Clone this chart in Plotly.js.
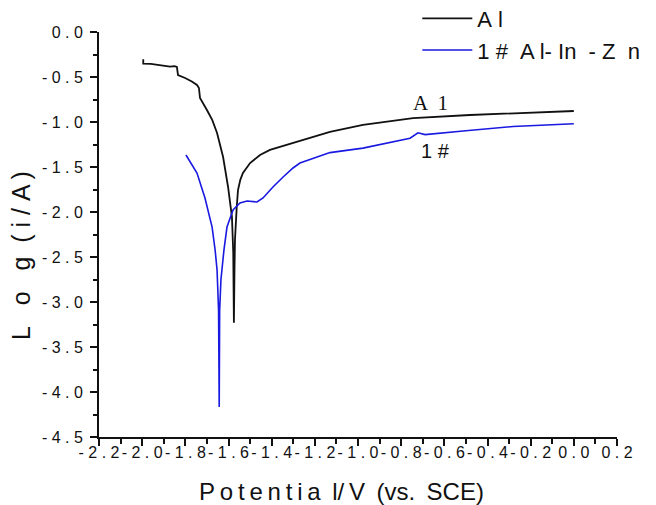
<!DOCTYPE html>
<html>
<head>
<meta charset="utf-8">
<script src="https://cdn.plot.ly/plotly-3.0.1.min.js"></script>
<style>
  html, body { margin: 0; padding: 0; background: #fff; }
  #chart { width: 656px; height: 505px; }
</style>
</head>
<body>
<div id="chart"></div>
<script>
// ---- Data ----
const NB = "\u00a0", TH = "\u2009";
const seriesNames = ["A" + NB + "l", "1 #" + NB + NB + "A l- In" + NB + NB + "- Z" + NB + NB + "n"];

// Pure Al polarization curve: potential (V vs. SCE) and log(i/A)
const alPotential = [-1.995, -1.995, -1.960, -1.917, -1.895, -1.871, -1.850, -1.839, -1.834, -1.820,
  -1.801, -1.770, -1.746, -1.737, -1.732, -1.700, -1.675, -1.653, -1.625, -1.602,
  -1.584, -1.578, -1.575, -1.572, -1.570, -1.562, -1.556, -1.545, -1.533, -1.500,
  -1.454, -1.408, -1.269, -1.130, -0.977, -0.745, -0.481, -0.240, 0.000];
const alLogI = [-0.303, -0.352, -0.355, -0.367, -0.372, -0.385, -0.380, -0.389, -0.478, -0.490,
  -0.511, -0.550, -0.589, -0.622, -0.733, -0.867, -0.980, -1.122, -1.389, -1.722,
  -2.056, -2.450, -3.230, -2.600, -2.310, -1.950, -1.756, -1.640, -1.567, -1.456,
  -1.367, -1.310, -1.210, -1.111, -1.033, -0.956, -0.922, -0.900, -0.878];

// 1# Al-In-Zn alloy polarization curve
const alloyPotential = [-1.797, -1.746, -1.709, -1.676, -1.662, -1.653, -1.646, -1.643, -1.641, -1.635,
  -1.621, -1.607, -1.579, -1.547, -1.514, -1.468, -1.440, -1.394, -1.347, -1.301,
  -1.269, -1.130, -0.977, -0.759, -0.722, -0.689, -0.513, -0.282, 0.000];
const alloyLogI = [-1.367, -1.567, -1.844, -2.167, -2.422, -2.644, -3.090, -4.167, -3.090, -2.750,
  -2.420, -2.167, -1.978, -1.900, -1.878, -1.889, -1.844, -1.722, -1.611, -1.511,
  -1.456, -1.340, -1.290, -1.180, -1.120, -1.140, -1.100, -1.050, -1.020];

// Tick values / labels
const xTickVals = [-2.2, -2.0, -1.8, -1.6, -1.4, -1.2, -1.0, -0.8, -0.6, -0.4, -0.2, 0.0, 0.2];
const yTickVals = [0.0, -0.5, -1.0, -1.5, -2.0, -2.5, -3.0, -3.5, -4.0, -4.5];
const spaced = v => (Math.abs(v) < 1e-9 ? 0 : v).toFixed(1).split('').join(' ');
const xTickText = xTickVals.map(spaced);
const yTickText = yTickVals.map(spaced);

const xTitle = ["P","o","t","e","n","t","i","a"].join(TH) + NB + TH + "l/" + TH + "V" + NB + TH + "(vs." + NB + TH + "SCE)";
const yTitle = "L" + NB+NB+NB + "o" + NB+NB+NB + "g" + NB+NB + "(" + NB + "i" + NB + "/" + NB + "A" + TH + ")";
const labelAl = "A" + NB + TH + "1";
const labelAlloy = "1 #";

// ---- Plot ----
const FONT = "Liberation Sans, Arial, sans-serif";
const traces = [
  { x: alPotential, y: alLogI, name: seriesNames[0], type: 'scatter', mode: 'lines',
    line: { color: '#111111', width: 1.8 } },
  { x: alloyPotential, y: alloyLogI, name: seriesNames[1], type: 'scatter', mode: 'lines',
    line: { color: 'rgb(25,25,225)', width: 1.6 } }
];

const layout = {
  width: 656, height: 505,
  margin: { l: 99, r: 39, t: 32, b: 68, autoexpand: false },
  paper_bgcolor: '#fff', plot_bgcolor: '#fff',
  font: { family: FONT, color: '#111' },
  showlegend: true,
  legend: { x: 0.6145, y: 1.085, xanchor: 'left', yanchor: 'top',
    font: { family: FONT, size: 22, color: '#111' }, bgcolor: 'rgba(0,0,0,0)',
    itemwidth: 50, tracegroupgap: 0 },
  xaxis: {
    range: [-2.2, 0.2], showgrid: false, zeroline: false,
    showline: true, linecolor: '#111', linewidth: 2,
    ticks: 'outside', ticklen: 7, tickwidth: 2, tickcolor: '#111',
    tickvals: xTickVals, ticktext: xTickText, tickangle: 0, ticklabelstandoff: -7,
    tickfont: { family: FONT, size: 16, color: '#111' },
    minor: { dtick: 0.1, tick0: 0, ticks: 'outside', ticklen: 5, tickwidth: 2, tickcolor: '#111', showgrid: false }
  },
  yaxis: {
    range: [-4.5, 0], showgrid: false, zeroline: false,
    showline: true, linecolor: '#111', linewidth: 2,
    ticks: 'outside', ticklen: 7, tickwidth: 2, tickcolor: '#111',
    tickvals: yTickVals, ticktext: yTickText, ticklabelstandoff: 4,
    tickfont: { family: FONT, size: 16, color: '#111' },
    minor: { dtick: 0.25, tick0: 0, ticks: 'outside', ticklen: 4, tickwidth: 2, tickcolor: '#111', showgrid: false }
  },
  annotations: [
    { text: yTitle, xref: 'paper', yref: 'paper', x: (21 - 99) / 518, y: (437 - 256) / 405, textangle: -90,
      xanchor: 'center', yanchor: 'middle',
      showarrow: false, font: { family: FONT, size: 25, color: '#111' } },
    { text: xTitle, xref: 'paper', yref: 'paper', x: (197 - 99) / 518, y: (437 - 491) / 405,
      xanchor: 'left', yanchor: 'middle',
      showarrow: false, font: { family: FONT, size: 24, color: '#111' } },
    { text: labelAl, xref: 'x', yref: 'y', x: -0.664, y: -0.789, showarrow: false,
      font: { family: 'Liberation Serif, Times New Roman, serif', size: 21, color: '#111' } },
    { text: labelAlloy, xref: 'x', yref: 'y', x: -0.643, y: -1.322, showarrow: false,
      font: { family: FONT, size: 20, color: '#111' } }
  ]
};

Plotly.newPlot('chart', traces, layout, { displayModeBar: false, staticPlot: true });
</script>
</body>
</html>
